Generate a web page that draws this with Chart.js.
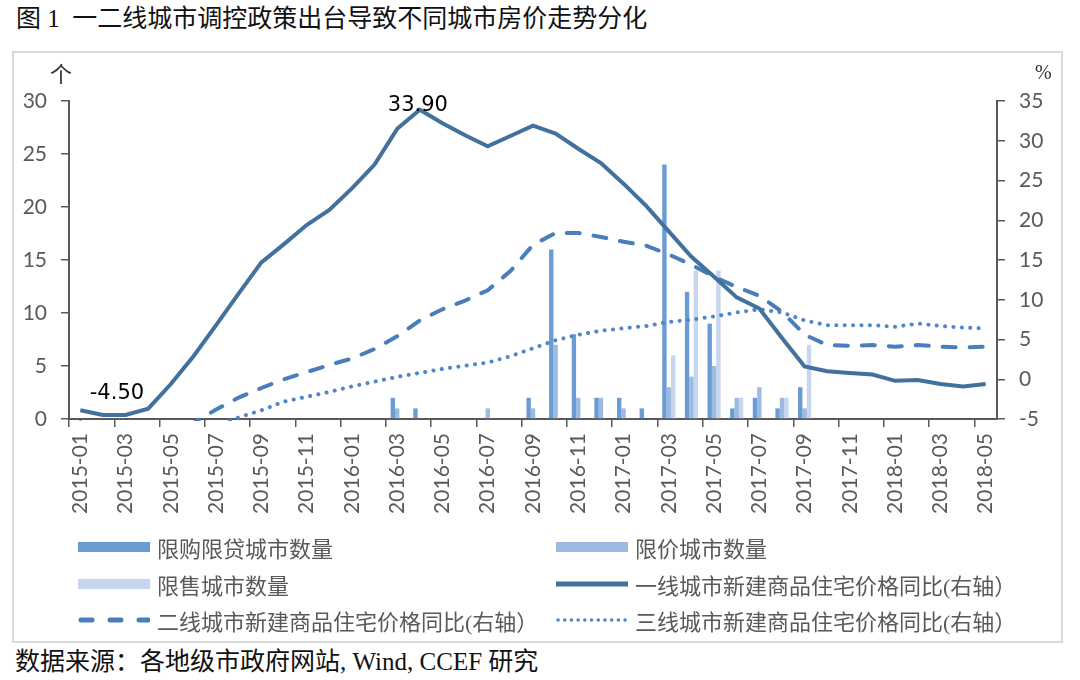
<!DOCTYPE html>
<html lang="zh">

<head>
    <meta charset="UTF-8">
    <title>一二线城市调控政策出台导致不同城市房价走势分化</title>
    <script src="https://cdn.jsdelivr.net/npm/chart.js@4.4.1/dist/chart.umd.min.js"></script>
    <style>
        * {
            margin: 0;
            padding: 0;
        }

        body {
            background: #fff;
        }

        #page {
            position: relative;
            width: 1080px;
            height: 680px;
            overflow: hidden;
            background: #fff;
        }

        #title {
            position: absolute;
            left: 16px;
            top: 6px;
            font-family: "Liberation Serif", "Noto Sans CJK SC";
            font-size: 25px;
            line-height: 25px;
            color: #111;
            white-space: pre;
        }

        #frame {
            position: absolute;
            left: 12px;
            top: 51px;
            width: 1051px;
            height: 592px;
            border: 2px solid #d9d9d9;
            box-sizing: border-box;
        }

        #chartBox {
            position: absolute;
            left: 0;
            top: 0;
            width: 1080px;
            height: 530px;
        }

        .unit {
            position: absolute;
            top: 60px;
            font-size: 22px;
            line-height: 24px;
            color: #333;
        }

        #unitL {
            left: 50px;
            font-family: "Noto Sans CJK SC";
        }

        #unitR {
            left: 1035px;
            font-family: "Liberation Serif";
            font-size: 20px;
        }

        #legend {
            position: absolute;
            left: 78px;
            top: 529px;
            display: grid;
            grid-template-columns: 478px 478px;
            grid-auto-rows: 36.5px;
            font-family: "Liberation Serif", "Noto Sans CJK SC";
            font-size: 22px;
            color: #595959;
        }

        .item {
            display: flex;
            align-items: center;
            white-space: pre;
        }

        .item svg {
            margin-right: 7px;
        }

        #source {
            position: absolute;
            left: 15px;
            top: 649px;
            font-family: "Liberation Serif", "Noto Sans CJK SC";
            font-size: 25px;
            line-height: 26px;
            color: #111;
            white-space: pre;
        }
    </style>
</head>

<body>
    <div id="page">
        <div id="title">图 1  一二线城市调控政策出台导致不同城市房价走势分化</div>
        <div id="frame"></div>
        <div id="chartBox"><canvas id="chartCanvas" width="1080" height="530"></canvas></div>
        <span class="unit" id="unitL">个</span>
        <span class="unit" id="unitR">%</span>
        <div id="legend"></div>
        <div id="source">数据来源：各地级市政府网站, Wind, CCEF 研究</div>
    </div>

    <script>
        // 月份
        const months = [
            '2015-01', '2015-02', '2015-03', '2015-04', '2015-05', '2015-06', '2015-07', '2015-08', '2015-09', '2015-10', '2015-11', '2015-12',
            '2016-01', '2016-02', '2016-03', '2016-04', '2016-05', '2016-06', '2016-07', '2016-08', '2016-09', '2016-10', '2016-11', '2016-12',
            '2017-01', '2017-02', '2017-03', '2017-04', '2017-05', '2017-06', '2017-07', '2017-08', '2017-09', '2017-10', '2017-11', '2017-12',
            '2018-01', '2018-02', '2018-03', '2018-04', '2018-05'
        ]

        // 城市数量（左轴，个）
        const xgxd = [0, 0, 0, 0, 0, 0, 0, 0, 0, 0, 0, 0, 0, 0, 2, 1, 0, 0, 0, 0, 2, 16, 8, 2, 2, 1, 24, 12, 9, 1, 2, 1, 3, 0, 0, 0, 0, 0, 0, 0, 0]
        const xj = [0, 0, 0, 0, 0, 0, 0, 0, 0, 0, 0, 0, 0, 0, 1, 0, 0, 0, 1, 0, 1, 7, 2, 2, 1, 0, 3, 4, 5, 2, 3, 2, 1, 0, 0, 0, 0, 0, 0, 0, 0]
        const xs = [0, 0, 0, 0, 0, 0, 0, 0, 0, 0, 0, 0, 0, 0, 0, 0, 0, 0, 0, 0, 0, 0, 0, 0, 0, 0, 6, 14, 14, 2, 0, 2, 7, 0, 0, 0, 0, 0, 0, 0, 0]

        // 新建商品住宅价格同比（右轴，%）
        const tier1 = [-3.9, -4.5, -4.5, -3.7, -0.6, 2.9, 6.8, 10.8, 14.7, 17.0, 19.4, 21.3, 24.0, 27.0, 31.5, 33.9, 32.2, 30.7, 29.3, 30.6, 31.9,
            30.9, 29.0, 27.2, 24.6, 21.8, 18.6, 15.4, 12.9, 10.3, 8.9, 5.2, 1.6, 1.0, 0.8, 0.6, -0.2, -0.1, -0.6, -0.9, -0.6]
        const tier2 = [-5.9, -6.3, -6.6, -6.7, -6.4, -5.5, -3.8, -2.3, -1.1, 0.0, 0.9, 1.8, 2.6, 3.8, 5.4, 7.4, 8.8, 9.9, 11.2, 13.6, 16.9,
            18.4, 18.4, 17.9, 17.3, 16.8, 15.7, 14.4, 12.9, 11.6, 10.5, 8.5, 5.6, 4.3, 4.2, 4.3, 4.1, 4.3, 4.1, 4.0, 4.1]
        const tier3 = [-5.4, -5.8, -6.1, -6.3, -6.4, -6.3, -5.8, -4.8, -3.9, -2.8, -2.2, -1.6, -0.9, -0.3, 0.3, 0.8, 1.3, 1.7, 2.1, 2.9, 3.9,
            4.9, 5.6, 6.1, 6.4, 6.7, 7.2, 7.5, 7.9, 8.4, 8.8, 8.4, 7.4, 6.8, 6.8, 6.8, 6.6, 7.0, 6.7, 6.5, 6.4]

        // 标注的数据点
        const pointLabels = [
            { index: 15, text: '33.90', dx: -2, dy: 1 },
            { index: 1, text: '-4.50', dx: 14, dy: -16 }
        ]

        const axisColor = '#595959'
        const tickFont = { family: 'Lato', size: 21 }

        const barStyle = {
            type: 'bar',
            yAxisID: 'y',
            order: 2,
            categoryPercentage: 0.58,
            barPercentage: 1.0,
            borderWidth: 0,
        }
        const lineStyle = {
            type: 'line',
            yAxisID: 'y1',
            order: 1,
            borderWidth: 4,
            pointRadius: 0,
            tension: 0,
            fill: false,
            clip: 2,
        }

        const datasets = [
            Object.assign({ label: '限购限贷城市数量', data: xgxd, backgroundColor: '#6a9bd3' }, barStyle),
            Object.assign({ label: '限价城市数量', data: xj, backgroundColor: '#9dbbe1' }, barStyle),
            Object.assign({ label: '限售城市数量', data: xs, backgroundColor: '#c6d6ee' }, barStyle),
            Object.assign({ label: '一线城市新建商品住宅价格同比(右轴）', data: tier1, borderColor: '#41719c', borderCapStyle: 'butt' }, lineStyle),
            Object.assign({ label: '二线城市新建商品住宅价格同比(右轴）', data: tier2, borderColor: '#4a7ebb', borderDash: [13, 14], borderCapStyle: 'round' }, lineStyle),
            Object.assign({ label: '三线城市新建商品住宅价格同比(右轴）', data: tier3, borderColor: '#5287c6', borderDash: [0.1, 8.3], borderCapStyle: 'round' }, lineStyle),
        ]

        const labelPlugin = {
            id: 'pointLabels',
            afterDatasetsDraw(chart) {
                const ctx = chart.ctx
                const xs = chart.scales.x
                const ys = chart.scales.y1
                ctx.save()
                ctx.font = '21px "DejaVu Sans"'
                ctx.fillStyle = '#000'
                ctx.textAlign = 'center'
                ctx.textBaseline = 'alphabetic'
                pointLabels.forEach(function (p) {
                    const px = xs.getPixelForValue(p.index)
                    const py = ys.getPixelForValue(tier1[p.index])
                    ctx.fillText(p.text, px + p.dx, py + p.dy)
                })
                ctx.restore()
            }
        }

        const chart = new Chart(document.getElementById('chartCanvas'), {
            data: { labels: months, datasets: datasets },
            options: {
                responsive: false,
                animation: false,
                events: [],
                layout: { padding: { left: 12, top: 101, right: 13, bottom: 0 } },
                plugins: { legend: { display: false }, tooltip: { enabled: false } },
                scales: {
                    x: {
                        offset: true,
                        grid: {
                            offset: true,
                            drawOnChartArea: false,
                            tickLength: 8,
                            lineWidth: 1.5,
                            color: function (c) { return c.index % 2 === 0 ? axisColor : 'rgba(0,0,0,0)' }
                        },
                        border: { color: axisColor, width: 2 },
                        ticks: {
                            autoSkip: false,
                            minRotation: 90,
                            maxRotation: 90,
                            padding: 6,
                            color: axisColor,
                            font: tickFont,
                            callback: function (v, i) { return i % 2 === 0 ? months[i] : '' }
                        },
                        afterFit: function (scale) { scale.height = 111 }
                    },
                    y: {
                        position: 'left',
                        min: 0,
                        max: 30,
                        grid: { drawOnChartArea: false, tickLength: 8, lineWidth: 1.5, color: axisColor },
                        border: { color: axisColor, width: 2 },
                        ticks: { stepSize: 5, padding: 14, color: axisColor, font: tickFont },
                        afterFit: function (scale) { scale.width = 57 }
                    },
                    y1: {
                        position: 'right',
                        min: -5,
                        max: 35,
                        grid: { drawOnChartArea: false, tickLength: 8, lineWidth: 1.5, color: axisColor },
                        border: { color: axisColor, width: 2 },
                        ticks: { stepSize: 5, padding: 14, color: axisColor, font: tickFont },
                        afterFit: function (scale) { scale.width = 70 }
                    }
                }
            },
            plugins: [labelPlugin]
        })

        // 图例（两列）
        const legend = document.getElementById('legend')
        const svgNS = 'http://www.w3.org/2000/svg'
        chart.data.datasets.forEach(function (ds) {
            const item = document.createElement('div')
            item.className = 'item'
            const svg = document.createElementNS(svgNS, 'svg')
            svg.setAttribute('width', '72')
            svg.setAttribute('height', '14')
            if (ds.type === 'bar') {
                const r = document.createElementNS(svgNS, 'rect')
                r.setAttribute('x', '0')
                r.setAttribute('y', '2')
                r.setAttribute('width', '72')
                r.setAttribute('height', '10')
                r.setAttribute('fill', ds.backgroundColor)
                svg.appendChild(r)
            } else {
                const l = document.createElementNS(svgNS, 'line')
                l.setAttribute('stroke', ds.borderColor)
                l.setAttribute('stroke-width', '5')
                l.setAttribute('y1', '7')
                l.setAttribute('y2', '7')
                if (ds.borderDash && ds.borderDash[0] > 1) {
                    l.setAttribute('x1', '3')
                    l.setAttribute('x2', '70')
                    l.setAttribute('stroke-dasharray', '11 18')
                    l.setAttribute('stroke-linecap', 'round')
                } else if (ds.borderDash) {
                    l.setAttribute('x1', '2')
                    l.setAttribute('x2', '72')
                    l.setAttribute('stroke-width', '3.5')
                    l.setAttribute('stroke-dasharray', '0.1 6.6')
                    l.setAttribute('stroke-linecap', 'round')
                } else {
                    l.setAttribute('x1', '0')
                    l.setAttribute('x2', '72')
                }
                svg.appendChild(l)
            }
            item.appendChild(svg)
            const t = document.createElement('span')
            t.textContent = ds.label
            item.appendChild(t)
            legend.appendChild(item)
        })
    </script>
</body>

</html>
